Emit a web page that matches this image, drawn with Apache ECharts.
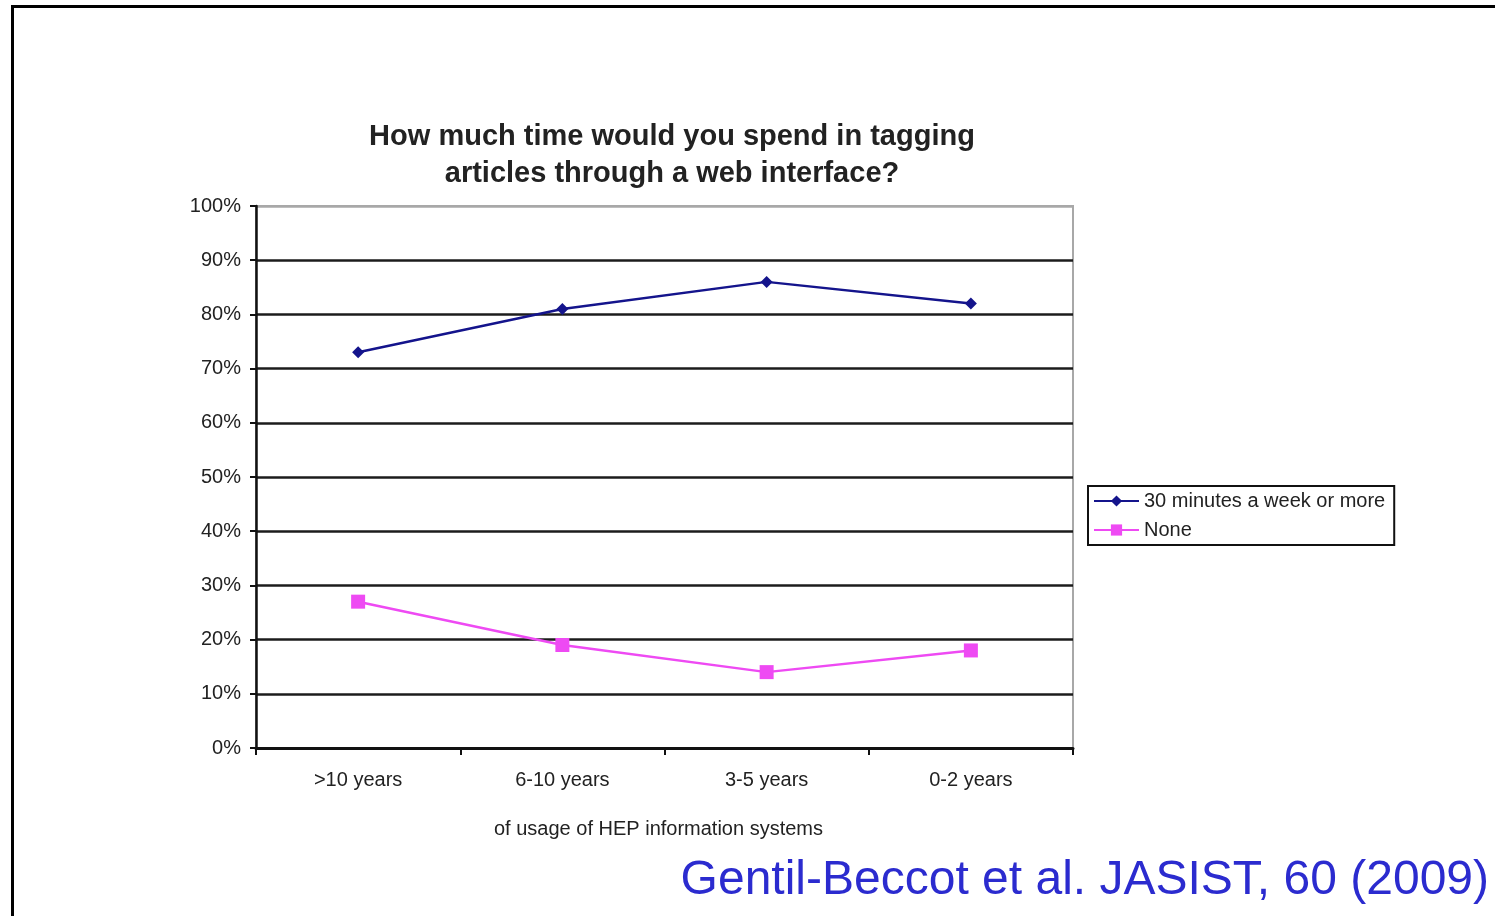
<!DOCTYPE html>
<html>
<head>
<meta charset="utf-8">
<title>Time spent tagging articles</title>
<script src="https://cdn.jsdelivr.net/npm/echarts@6/dist/echarts.min.js"></script>
<style>
  html, body { margin: 0; padding: 0; background: #ffffff; }
  #chart { width: 1495px; height: 916px; }
</style>
</head>
<body>
<div id="chart"></div>
<script>
// Survey answers by years of use of HEP information systems
const categories = ['>10 years', '6-10 years', '3-5 years', '0-2 years'];
const thirtyMinutesOrMore = [73, 81, 86, 82];
const none = [27, 19, 14, 18];
const seriesNames = ['30 minutes a week or more', 'None'];
const yTickStep = 10;

const FONT = '"Liberation Sans", Arial, sans-serif';
const INK = '#222222';

// grid lines: black for 0–90 %, grey for the top edge at 100 %
const gridLineColors = [];
for (let v = 0; v <= 100; v += yTickStep) gridLineColors.push(v === 100 ? '#a8a8a8' : '#1c1c1c');

const chart = echarts.init(document.getElementById('chart'), null, { renderer: 'canvas' });

chart.setOption({
  backgroundColor: '#ffffff',
  animation: false,
  title: [
    {
      text: 'How much time would you spend in tagging\narticles through a web interface?',
      left: 667,
      top: 113,
      textAlign: 'center',
      textStyle: { fontFamily: FONT, fontSize: 29, fontWeight: 'bold', color: INK, lineHeight: 37 }
    },
    {
      text: 'Gentil-Beccot et al. JASIST, 60 (2009)',
      right: 1,
      top: 852,
      textStyle: { fontFamily: FONT, fontSize: 48, fontWeight: 'normal', color: '#2b2bcf' }
    }
  ],
  legend: {
    orient: 'vertical',
    left: 1088,
    top: 486,
    padding: [5, 9, 5, 5],
    itemWidth: 45,
    itemHeight: 14,
    itemGap: 9,
    borderColor: '#111111',
    borderWidth: 2,
    textStyle: { fontFamily: FONT, fontSize: 20, color: INK },
    data: seriesNames
  },
  grid: {
    left: 256,
    top: 206,
    width: 817,
    height: 542,
    show: true,
    borderColor: '#a8a8a8',
    borderWidth: 2,
    backgroundColor: 'transparent'
  },
  xAxis: {
    type: 'category',
    data: categories,
    boundaryGap: true,
    name: 'of usage of HEP information systems',
    nameLocation: 'middle',
    nameGap: 71,
    nameTextStyle: { fontFamily: FONT, fontSize: 20, color: INK, padding: [0, 12, 0, 0] },
    axisLine: { lineStyle: { color: '#111111', width: 3 } },
    axisTick: { show: true, alignWithLabel: false, length: 7, lineStyle: { color: '#111111', width: 2 } },
    axisLabel: { fontFamily: FONT, fontSize: 20, color: INK, margin: 22 },
    splitLine: { show: false }
  },
  yAxis: {
    type: 'value',
    min: 0,
    max: 100,
    interval: yTickStep,
    axisLine: { show: true, lineStyle: { color: '#111111', width: 2.5 } },
    axisTick: { show: true, length: 6, lineStyle: { color: '#111111', width: 2 } },
    axisLabel: { fontFamily: FONT, fontSize: 20, color: INK, margin: 15, formatter: '{value}%' },
    splitLine: { show: true, lineStyle: { color: gridLineColors, width: 2.5 } }
  },
  series: [
    {
      name: seriesNames[0],
      type: 'line',
      data: thirtyMinutesOrMore,
      symbol: 'diamond',
      symbolSize: 12,
      itemStyle: { color: '#14148c' },
      lineStyle: { color: '#14148c', width: 2.5 },
      z: 3
    },
    {
      name: seriesNames[1],
      type: 'line',
      data: none,
      symbol: 'rect',
      symbolSize: 14,
      itemStyle: { color: '#ee4af3' },
      lineStyle: { color: '#ee4af3', width: 2.5 },
      z: 3
    }
  ],
  // page frame: top rule and left rule
  graphic: [
    { type: 'rect', shape: { x: 11, y: 5, width: 1484, height: 3 }, style: { fill: '#000000' }, silent: true },
    { type: 'rect', shape: { x: 11, y: 5, width: 3, height: 911 }, style: { fill: '#000000' }, silent: true }
  ]
});
</script>
</body>
</html>
